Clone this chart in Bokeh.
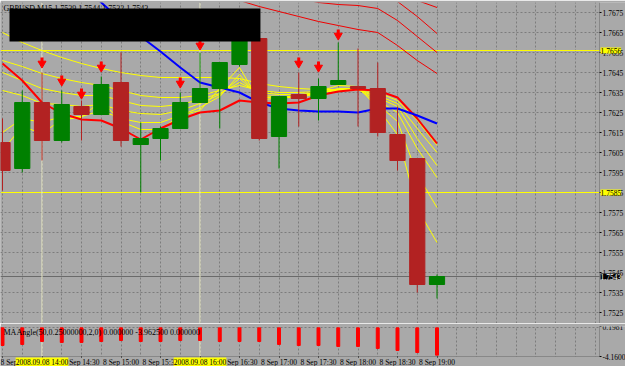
import numpy as np
from bokeh.plotting import figure
from bokeh.models import (ColumnDataSource, FixedTicker, Range1d, Span, Label, LinearAxis,
                          BoxAnnotation, Grid, PrintfTickFormatter)
from bokeh.layouts import column
from bokeh.embed import file_html
from bokeh.resources import INLINE

# ---------------- data ----------------
chart_title = "GBPUSD,M15  1.7539 1.7544 1.7532 1.7543"
ind_title = "MAAngle(50,0.25000000,2,0) 0.000000 -3.962500 0.000000"
day = "8 Sep"
times = ["13:30", "13:45", "14:00", "14:15", "14:30", "14:45", "15:00", "15:15",
         "15:30", "15:45", "16:00", "16:15", "16:30", "16:45", "17:00", "17:15",
         "17:30", "17:45", "18:00", "18:15", "18:30", "18:45", "19:00"]

opens = [1.7610, 1.7597, 1.7630, 1.7611, 1.7628, 1.7624, 1.7640, 1.7609, 1.7612, 1.7617,
         1.7630, 1.7637, 1.7649, 1.7662, 1.7613, 1.7634, 1.7632, 1.7639, 1.7638, 1.7637,
         1.7614, 1.7602, 1.7539]
highs = [1.7622, 1.7636, 1.7645, 1.7636, 1.7631, 1.7643, 1.7655, 1.7620, 1.7618, 1.7635,
         1.7655, 1.7650, 1.7666, 1.7663, 1.7633, 1.7645, 1.7642, 1.7660, 1.7657, 1.7650,
         1.7628, 1.7602, 1.7544]
lows = [1.7586, 1.7595, 1.7601, 1.7610, 1.7611, 1.7624, 1.7608, 1.7585, 1.7601, 1.7617,
        1.7630, 1.7617, 1.7648, 1.7611, 1.7597, 1.7618, 1.7621, 1.7639, 1.7618, 1.7613,
        1.7596, 1.7535, 1.7532]
closes = [1.7596, 1.7630, 1.7611, 1.7629, 1.7624, 1.7639, 1.7611, 1.7612, 1.7617, 1.7630,
          1.7637, 1.7650, 1.7663, 1.7612, 1.7633, 1.7632, 1.7638, 1.7641, 1.7637, 1.7615,
          1.7601, 1.7539, 1.7543]

ma_blue = [None, None, None, None, 1.76895, 1.7680, 1.7671, 1.7663, 1.76555, 1.76475,
           1.7640, 1.76375, 1.7635, 1.7630, 1.7627, 1.7626, 1.76255, 1.76255, 1.7625,
           1.7627, 1.7627, 1.76235, 1.76195]
ma_red = [1.76495, 1.7641, 1.7630, 1.76245, 1.76215, 1.7621, 1.7617, 1.76115, 1.7617,
          1.76215, 1.7625, 1.7626, 1.7631, 1.7630, 1.76295, 1.7630, 1.76335, 1.76355,
          1.76365, 1.7636, 1.76325, 1.7622, 1.76095]

ma_yellow_1 = [1.7606, 1.7618, 1.76145, 1.76215, 1.76225, 1.7631, 1.76205, 1.76165, 1.76165,
               1.76235, 1.7626, 1.7637, 1.76475, 1.7631, 1.76325, 1.76325, 1.76355, 1.76385,
               1.7638, 1.7627, 1.7614, 1.7577, 1.7560]
ma_yellow_2 = [1.7615, 1.7622, 1.7620, 1.7623, 1.7623, 1.7626, 1.7622, 1.7620, 1.7620,
               1.76235, 1.76275, 1.7633, 1.7644, 1.76325, 1.76325, 1.76325, 1.76345, 1.7637,
               1.7637, 1.7629, 1.76205, 1.7594, 1.75775]
ma_yellow_3 = [1.7636, 1.76335, 1.76295, 1.7629, 1.7628, 1.7629, 1.7626, 1.76245, 1.7624,
               1.7626, 1.76295, 1.7634, 1.7642, 1.76335, 1.7633, 1.7633, 1.7635, 1.76365,
               1.76365, 1.7631, 1.7625, 1.7607, 1.75925]
ma_yellow_4 = [1.7645, 1.7641, 1.7637, 1.7635, 1.76335, 1.76335, 1.7631, 1.76285, 1.7628,
               1.7629, 1.76315, 1.76345, 1.7640, 1.7635, 1.7634, 1.7634, 1.7635, 1.7636,
               1.76365, 1.76325, 1.7628, 1.7612, 1.75985]
ma_yellow_5 = [1.7651, 1.7648, 1.76445, 1.7642, 1.7640, 1.76385, 1.7636, 1.76335, 1.76325,
               1.76325, 1.76335, 1.7636, 1.76385, 1.7636, 1.7635, 1.7635, 1.76355, 1.7636,
               1.76365, 1.76335, 1.76295, 1.7617, 1.7605]
ma_yellow_6 = [1.7665, 1.7660, 1.7656, 1.76525, 1.76495, 1.7647, 1.7645, 1.76435, 1.76425,
               1.76425, 1.76425, 1.76425, 1.7642, 1.76395, 1.7638, 1.7637, 1.76365, 1.76365,
               1.76365, 1.7635, 1.7631, 1.7621, 1.76085]

band_1 = [None] * 11 + [1.76835, 1.7681, 1.7678, 1.76755, 1.7673, 1.76705, 1.76685, 1.76665,
                        1.7665, 1.76585, 1.7651, 1.76445]
band_2 = [None] * 14 + [1.7685, 1.7682, 1.7680, 1.7679, 1.76785, 1.7677, 1.7671, 1.7663, 1.7655]
band_3 = [None] * 18 + [1.7685, 1.7683, 1.76805, 1.7673, 1.76645]
band_4 = [None] * 19 + [1.7688, 1.7685, 1.7681, 1.76775]

arrow_bars = [2, 3, 4, 5, 9, 10, 15, 16, 17]
arrow_prices = [1.76505, 1.76415, 1.7635, 1.76485, 1.76405, 1.76595, 1.76505, 1.76485, 1.76645]

ma_angle = [-2.56, -2.41, -1.98, -2.12, -2.12, -1.98, -1.83, -1.98, -1.98, -1.83, -1.83,
            -1.98, -1.98, -1.98, -2.41, -2.56, -2.56, -2.70, -2.70, -2.99, -3.28, -3.58,
            -3.9625]

price_ticks = [1.7525, 1.7535, 1.7545, 1.7555, 1.7565, 1.7575, 1.7585, 1.7595, 1.7605,
               1.7615, 1.7625, 1.7635, 1.7645, 1.7655, 1.7665, 1.7675]
ind_ticks = [0.1981, -4.16]
hlines = [1.7656, 1.7585]
hline_labels = ["1.7656", "1.7585"]
bid = 1.7543
bid_label = "1.7543"
vline_bars = [2, 10]
vline_labels = ["2008.09.08 14:00", "2008.09.08 16:00"]

# ---------------- style / layout constants ----------------
BG = "#A9A9A9"
GRID = "#7C7C7C"
FRAME = "#3A3A3A"
FONT = "Liberation Sans Narrow"
FS = "8px"
FS_AX = "7.5px"
BULL = "#008000"
BEAR = "#B22222"
VCOL = "#ECECC8"
PXB = 19.75          # pixels per bar
W = 625
PANE_RIGHT_PX = 599  # right edge of the chart panes
STRIP_PX = 10        # height of time-label strip under the indicator

N = len(times)
idx = np.arange(N)
xstart = -2 / PXB
xr = Range1d(xstart, xstart + W / PXB)
X_RIGHT = xstart + PANE_RIGHT_PX / PXB
P_TOP, P_BOT = 1.7680, 1.75195
I_TOP, I_BOT = 0.1981, -4.16
I_FRAME_BOT = I_BOT - (I_TOP - I_BOT) * STRIP_PX / 30


def arr(a):
    return np.array([np.nan if v is None else v for v in a], dtype=float)


def style_axis(ax):
    ax.axis_line_color = None
    ax.major_tick_line_color = "black"
    ax.major_tick_in = 0
    ax.minor_tick_line_color = None
    ax.major_label_text_font = FONT
    ax.major_label_text_font_size = FS_AX
    ax.major_label_text_color = "black"


def base_fig(height, yr, top):
    f = figure(width=W, height=height, x_range=xr, y_range=yr,
               x_axis_location=None, y_axis_location=None,
               output_backend="svg", toolbar_location=None,
               min_border_left=0, min_border_right=0, min_border_top=top, min_border_bottom=0,
               background_fill_color=BG, border_fill_color=BG, outline_line_color=None)
    f.grid.grid_line_color = None
    f.add_layout(Grid(dimension=0, ticker=FixedTicker(ticks=list(range(-1, 31))),
                      grid_line_color=GRID, grid_line_dash="2 2"))
    return f


# ---------------- main pane ----------------
p = base_fig(323, Range1d(P_BOT, P_TOP), 2)
p.add_layout(Grid(dimension=1, ticker=FixedTicker(ticks=price_ticks),
                  grid_line_color=GRID, grid_line_dash="2 2"))
for h in hlines:
    p.add_layout(Span(location=h, dimension="width", line_color="#FFFF00", line_width=1, level="underlay"))
p.add_layout(Span(location=bid, dimension="width", line_color="#6A6A6A", line_width=1, level="underlay"))
p.add_layout(BoxAnnotation(left=X_RIGHT, fill_color=BG, fill_alpha=1.0, line_color=None, level="underlay"))
for b in vline_bars:
    p.add_layout(Span(location=b, dimension="height", line_color=VCOL, line_width=1, level="underlay"))

ya = LinearAxis(fixed_location=X_RIGHT, ticker=FixedTicker(ticks=price_ticks),
                formatter=PrintfTickFormatter(format="%.4f"))
ya.major_tick_out = 2
ya.major_label_standoff = 1
style_axis(ya)
p.add_layout(ya, "right")

for ys in [ma_yellow_6, ma_yellow_5, ma_yellow_4, ma_yellow_3, ma_yellow_2, ma_yellow_1]:
    p.line(idx, arr(ys), line_color="#FFFF00", line_width=1)
for ys in [band_1, band_2, band_3, band_4]:
    p.line(idx, arr(ys), line_color="#F00000", line_width=1)
p.line(idx, arr(ma_red), line_color="#FF0000", line_width=2)
p.line(idx, arr(ma_blue), line_color="#0000FF", line_width=2)

o = np.array(opens); c = np.array(closes)
src = ColumnDataSource(dict(x=idx, h=highs, l=lows, top=np.maximum(o, c), bottom=np.minimum(o, c),
                            color=np.where(c >= o, BULL, BEAR)))
p.segment(x0="x", y0="h", x1="x", y1="l", line_color="color", line_width=1, source=src)
p.vbar(x="x", top="top", bottom="bottom", width=0.77, fill_color="color", line_color="color", source=src)

ap = np.array(arrow_prices)
p.segment(x0=arrow_bars, y0=ap + 0.0002, x1=arrow_bars, y1=ap - 0.00005, line_color="#FF0000", line_width=3)
p.scatter(arrow_bars, ap - 0.0001, marker="inverted_triangle", size=8, fill_color="#FF0000", line_color="#FF0000")

p.add_layout(Label(x=xstart, y=P_TOP, x_offset=3, y_offset=-1, text=chart_title,
                   text_baseline="top", text_font=FONT, text_font_size=FS, text_color="black"))
p.add_layout(BoxAnnotation(left=0.354, right=13.06, top=1.7677, bottom=1.76605,
                           fill_color="black", fill_alpha=1.0, line_color=None))
p.add_layout(BoxAnnotation(left=xstart, right=X_RIGHT, top=P_TOP, bottom=P_BOT,
                           fill_alpha=0.0, line_color=FRAME, line_width=1))
for h, t in zip(hlines, hline_labels):
    p.add_layout(Label(x=X_RIGHT, y=h, x_offset=1, text=t, text_align="left", text_baseline="middle",
                       text_font=FONT, text_font_size=FS_AX, text_color="black",
                       background_fill_color="#FFFF00"))
p.add_layout(Label(x=X_RIGHT, y=bid, x_offset=1, text=bid_label, text_align="left", text_baseline="middle",
                   text_font=FONT, text_font_size=FS_AX, text_color="white", background_fill_color="black"))

# ---------------- indicator pane ----------------
q = base_fig(43, Range1d(I_FRAME_BOT, I_TOP), 3)
q.add_layout(Grid(dimension=1, ticker=FixedTicker(ticks=[0]),
                  grid_line_color=GRID, grid_line_dash="2 2"))
for b in vline_bars:
    q.add_layout(Span(location=b, dimension="height", line_color=VCOL, line_width=1, level="underlay"))
q.add_layout(BoxAnnotation(left=X_RIGHT, fill_color=BG, fill_alpha=1.0, line_color=None, level="underlay"))
q.add_layout(BoxAnnotation(top=I_BOT, fill_color=BG, fill_alpha=1.0, line_color=None, level="underlay"))

qa = LinearAxis(fixed_location=X_RIGHT, ticker=FixedTicker(ticks=ind_ticks),
                formatter=PrintfTickFormatter(format="%.4f"))
qa.major_tick_out = 2
qa.major_label_standoff = 1
style_axis(qa)
q.add_layout(qa, "right")

label_bars = list(range(0, N, 2))
xa = LinearAxis(fixed_location=I_BOT, ticker=FixedTicker(ticks=label_bars))
xa.major_label_overrides = {i: f"{day} {times[i]}" for i in label_bars}
xa.major_label_text_align = "left"
xa.major_tick_out = 1
xa.major_label_standoff = 0
style_axis(xa)
q.add_layout(xa, "below")

q.vbar(x=idx, top=0, bottom=ma_angle, width=0.15, fill_color="#FF0000", line_color="#FF0000")
q.add_layout(Label(x=xstart, y=I_TOP, x_offset=3, y_offset=-1, text=ind_title,
                   text_baseline="top", text_font=FONT, text_font_size=FS, text_color="black"))
q.add_layout(BoxAnnotation(left=xstart, right=X_RIGHT, top=I_TOP, bottom=I_BOT,
                           fill_alpha=0.0, line_color=FRAME, line_width=1))
for b, t in zip(vline_bars, vline_labels):
    q.add_layout(Label(x=b, y=I_BOT, y_offset=-1, text=t, text_align="center", text_baseline="top",
                       text_font=FONT, text_font_size=FS_AX, text_color="black",
                       background_fill_color="#FFFF00"))

layout = column(p, q, spacing=0)
open("out.html", "w").write(file_html(layout, INLINE))
